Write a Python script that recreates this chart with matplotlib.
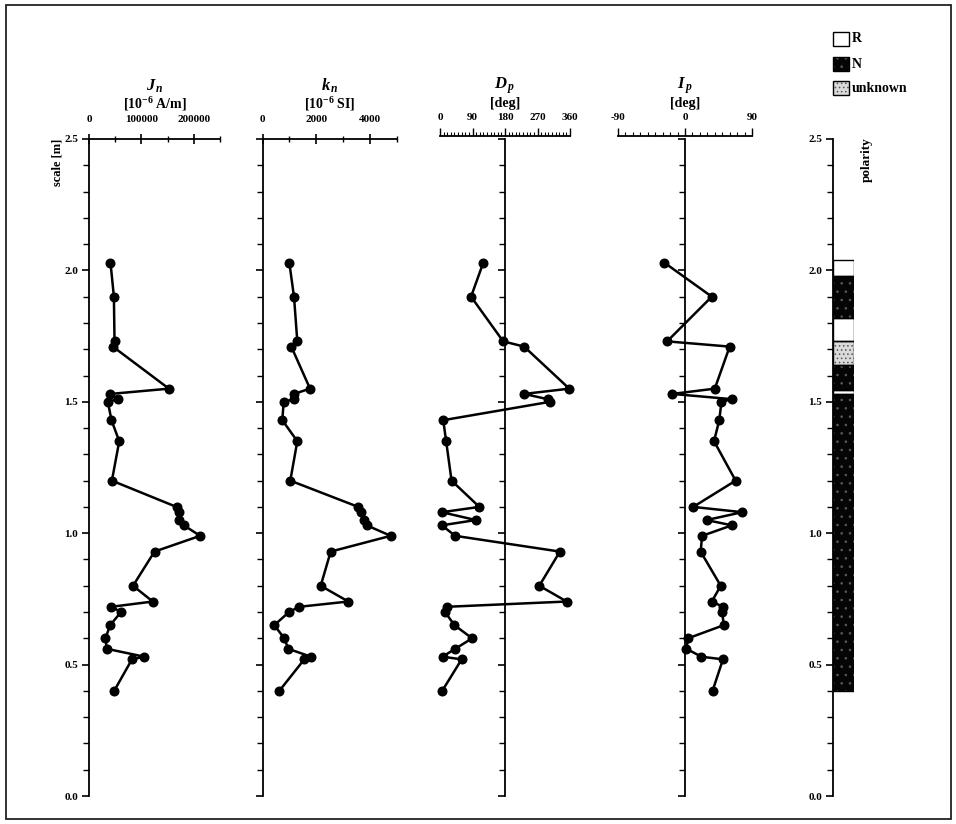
import matplotlib
matplotlib.use('Agg')
import matplotlib.pyplot as plt
from matplotlib.patches import Rectangle
from matplotlib.ticker import MultipleLocator, FuncFormatter

plt.rcParams['font.family'] = ['Liberation Serif', 'DejaVu Serif']
plt.rcParams['font.weight'] = 'bold'
plt.rcParams['mathtext.fontset'] = 'custom'
plt.rcParams['mathtext.rm'] = 'Liberation Serif:bold'
plt.rcParams['mathtext.it'] = 'Liberation Serif:italic:bold'
plt.rcParams['mathtext.bf'] = 'Liberation Serif:bold'
plt.rcParams['hatch.linewidth'] = 0.6

# ---------------- data ----------------
depth = [2.03, 1.90, 1.73, 1.71, 1.55, 1.53, 1.51, 1.50, 1.43, 1.35, 1.20,
         1.10, 1.08, 1.05, 1.03, 0.99, 0.93, 0.80, 0.74, 0.72, 0.70, 0.65,
         0.60, 0.56, 0.53, 0.52, 0.40]
jn = [41000, 47500, 48700, 45600, 152500, 41000, 55200, 36000, 42900, 57700,
      43700, 167000, 171700, 171700, 181000, 212000, 125000, 84000, 121700,
      42900, 61000, 40400, 31300, 34000, 105800, 82000, 48000]
kn = [996, 1171, 1294, 1071, 1766, 1171, 1182, 788, 736, 1294, 1033, 3561,
      3651, 3784, 3874, 4766, 2535, 2164, 3190, 1368, 985, 439, 810, 959,
      1803, 1554, 625]
dp = [120, 86, 175, 233, 358, 233, 298, 305, 9, 17, 32, 109, 5, 99, 5, 42,
      332, 275, 351, 20, 14, 40, 89, 42, 7, 60, 6]
ip = [-28, 36, -24, 60, 40, -17, 63, 49, 46, 39, 68, 11, 77, 29, 63, 23, 21,
      48, 36, 51, 50, 52, 4, 2, 22, 51, 37]

pol_top = [2.04, 1.98, 1.82, 1.73, 1.64, 1.545, 1.53]
pol_bottom = [1.98, 1.82, 1.73, 1.64, 1.545, 1.53, 0.40]
pol_type = ['R', 'N', 'R', 'U', 'N', 'R', 'N']

legend_labels = ['R', 'N', 'unknown']
legend_keys = ['R', 'N', 'U']

# styles per polarity type: (face, hatch, hatch colour)
pol_style = {'R': ('white', None, 'white'),
             'N': ('#050505', '..', '#5a5a5a'),
             'U': ('#dadada', '....', '#555555')}

# ---------------- figure ----------------
W, H = 956, 824
fig = plt.figure(figsize=(W / 100, H / 100), dpi=100)


def fx(px):
    return px / W


def fy(py):
    return 1 - py / H


Y_TOP, Y_BOT = 139, 796


def axes_at(x0, x1):
    return fig.add_axes([fx(x0), fy(Y_BOT), fx(x1 - x0), (Y_BOT - Y_TOP) / H])


def common_y(ax, spine_x, labels):
    ax.set_ylim(0, 2.5)
    ax.spines['right'].set_visible(False)
    ax.spines['bottom'].set_visible(False)
    ax.spines['left'].set_position(('data', spine_x))
    ax.spines['left'].set_linewidth(1.3)
    ax.spines['top'].set_linewidth(1.3)
    ax.yaxis.set_major_locator(MultipleLocator(0.5))
    ax.yaxis.set_minor_locator(MultipleLocator(0.1))
    ax.yaxis.set_major_formatter(FuncFormatter(lambda v, p: f'{v:.1f}'))
    ax.tick_params(axis='y', which='major', direction='out', length=5, width=1.2,
                   labelsize=8, labelleft=labels, pad=3)
    ax.tick_params(axis='y', which='minor', direction='out', length=4, width=1.0)
    ax.patch.set_visible(False)


def draw(ax, vals):
    ax.plot(vals, depth, '-o', color='black', lw=1.8, ms=6.2, clip_on=False,
            zorder=5)


# J_n panel
ax1 = axes_at(89, 220)
ax1.set_xlim(0, 250000)
common_y(ax1, 0, True)
ax1.xaxis.set_ticks_position('top')
ax1.set_xticks([0, 100000, 200000])
ax1.set_xticks([50000, 150000, 250000], minor=True)
ax1.xaxis.set_major_formatter(FuncFormatter(lambda v, p: f'{int(v)}'))
ax1.tick_params(axis='x', which='major', direction='inout', length=7, width=1.2,
                labelsize=8, pad=7)
ax1.tick_params(axis='x', which='minor', direction='inout', length=5, width=1.0)
draw(ax1, jn)

# k_n panel
ax2 = axes_at(262.5, 397)
ax2.set_xlim(0, 5000)
common_y(ax2, 0, False)
ax2.xaxis.set_ticks_position('top')
ax2.set_xticks([0, 2000, 4000])
ax2.set_xticks([1000, 3000, 5000], minor=True)
ax2.tick_params(axis='x', which='major', direction='inout', length=7, width=1.2,
                labelsize=8, pad=7)
ax2.tick_params(axis='x', which='minor', direction='inout', length=5, width=1.0)
draw(ax2, kn)

# D_p panel
ax3 = axes_at(440, 570)
ax3.set_xlim(0, 360)
common_y(ax3, 180, False)
ax3.spines['top'].set_position(('outward', 2))
ax3.xaxis.set_ticks_position('top')
ax3.set_xticks([0, 90, 180, 270, 360])
ax3.xaxis.set_minor_locator(MultipleLocator(10))
ax3.tick_params(axis='x', which='major', direction='out', length=6, width=1.0,
                labelsize=8, pad=4)
ax3.tick_params(axis='x', which='minor', direction='out', length=3, width=0.8)
draw(ax3, dp)

# I_p panel
ax4 = axes_at(618, 752)
ax4.set_xlim(-90, 90)
common_y(ax4, 0, False)
ax4.spines['top'].set_position(('outward', 2))
ax4.xaxis.set_ticks_position('top')
ax4.set_xticks([-90, 0, 90])
ax4.xaxis.set_minor_locator(MultipleLocator(10))
ax4.xaxis.set_major_formatter(FuncFormatter(lambda v, p: f'{int(v)}'))
ax4.tick_params(axis='x', which='major', direction='out', length=6, width=1.0,
                labelsize=8, pad=4)
ax4.tick_params(axis='x', which='minor', direction='out', length=3, width=0.8)
draw(ax4, ip)

# polarity column
ax5 = axes_at(833, 854)
ax5.set_xlim(0, 1)
common_y(ax5, 0, True)
ax5.spines['top'].set_visible(False)
ax5.set_xticks([])
for t, b, k in zip(pol_top, pol_bottom, pol_type):
    face, hatch, hcol = pol_style[k]
    ax5.bar(0.5, t - b, bottom=b, width=1.0, color=face, hatch=hatch,
            edgecolor=hcol, linewidth=0, zorder=2)
    ax5.bar(0.5, t - b, bottom=b, width=1.0, fill=False, edgecolor='black',
            linewidth=1.0, zorder=3)

# titles
titles = [(154.5, r'$J_{\,n}$', r'[10$^{-6}$ A/m]'),
          (330, r'$k_{\,n}$', r'[10$^{-6}$ SI]'),
          (505, r'$D_{\,p}$', '[deg]'),
          (685, r'$I_{\,p}$', '[deg]')]
for cx, t1, t2 in titles:
    fig.text(fx(cx), fy(86), t1, ha='center', va='center', fontsize=12)
    fig.text(fx(cx), fy(104), t2, ha='center', va='center', fontsize=10)

fig.text(fx(58), fy(162), 'scale [m]', rotation=90, ha='center', va='center',
         fontsize=9)
fig.text(fx(867), fy(160), 'polarity', rotation=90, ha='center', va='center',
         fontsize=9.5)

# legend
leg_y = [32, 57, 81]
for yy, lab, key in zip(leg_y, legend_labels, legend_keys):
    face, hatch, hcol = pol_style[key]
    fig.patches.append(Rectangle((fx(833), fy(yy + 14)), fx(16), 14 / H,
                                 transform=fig.transFigure, facecolor=face,
                                 hatch=hatch, edgecolor=hcol, linewidth=0))
    fig.patches.append(Rectangle((fx(833), fy(yy + 14)), fx(16), 14 / H,
                                 transform=fig.transFigure, fill=False,
                                 edgecolor='black', linewidth=1.0))
    fig.text(fx(852), fy(yy + 7), lab, ha='left', va='center', fontsize=10)

# frame around the figure
fig.patches.append(Rectangle((fx(6), fy(819)), fx(945), (819 - 5) / H,
                             transform=fig.transFigure, fill=False,
                             edgecolor='#222222', linewidth=1.3))

fig.savefig('out.png', dpi=100)
